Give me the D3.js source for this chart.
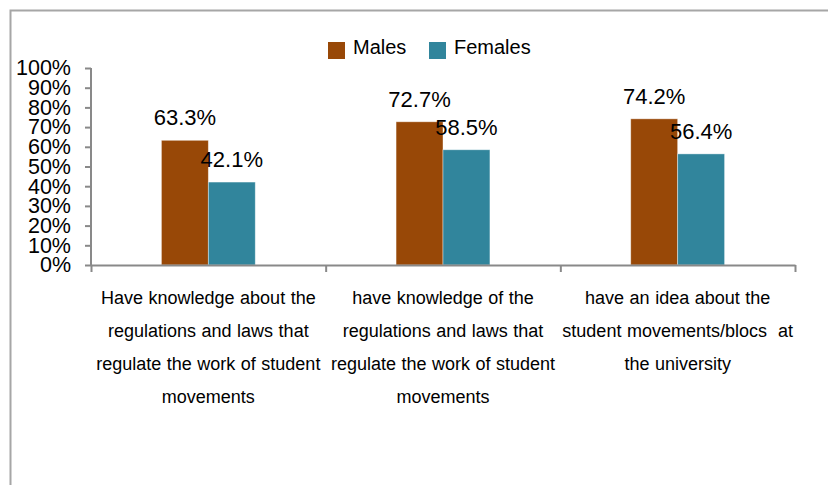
<!DOCTYPE html>
<html>
<head>
<meta charset="utf-8">
<script src="https://cdn.jsdelivr.net/npm/d3@7"></script>
<style>
  html, body { margin: 0; padding: 0; background: #fff; }
  svg { display: block; }
  text { font-family: Arial, "Liberation Sans", sans-serif; fill: #000; }
</style>
</head>
<body>
<svg id="chart" width="828" height="485"></svg>
<script>
// Survey categories (label lines) and the share of respondents per gender
const categories = ["cat1", "cat2", "cat3"];
const categoryLines = [
  ["Have knowledge about the", "regulations and laws that", "regulate the work of student", "movements"],
  ["have knowledge of the", "regulations and laws that", "regulate the work of student", "movements"],
  ["have an idea about the", "student movements/blocs  at", "the university"]
];
const series = ["Males", "Females"];
const males = [0.633, 0.727, 0.742];
const females = [0.421, 0.585, 0.564];
const yTicks = [0, 0.1, 0.2, 0.3, 0.4, 0.5, 0.6, 0.7, 0.8, 0.9, 1.0];
const colors = ["#984807", "#31859C"];

const values = [males, females];
const svg = d3.select("#chart");

// outer frame (left and top edges)
svg.append("path")
  .attr("d", "M10.5,485 V10.5 H828")
  .attr("fill", "none")
  .attr("stroke", "#a6a6a6")
  .attr("stroke-width", 2);

const plot = { left: 91, right: 795, top: 68, bottom: 265 };

const y = d3.scaleLinear().domain([0, 1]).range([plot.bottom, plot.top]);
const x = d3.scaleBand().domain(categories).range([plot.left, plot.right]).padding(0);
const bw = x.bandwidth();
const x1 = d3.scaleBand().domain(series).range([0.3 * bw, 0.7 * bw]).padding(0);

// bars
series.forEach((s, si) => {
  svg.append("g").selectAll("rect")
    .data(categories.map((c, i) => ({ c, v: values[si][i] })))
    .join("rect")
    .attr("x", d => x(d.c) + x1(s))
    .attr("y", d => y(d.v))
    .attr("width", x1.bandwidth())
    .attr("height", d => y(0) - y(d.v))
    .attr("fill", colors[si])
    .attr("stroke", "#ffffff")
    .attr("stroke-opacity", 0.5)
    .attr("stroke-width", 0.8);
});

// y axis
const yAxis = svg.append("g")
  .attr("transform", `translate(${plot.left},0)`)
  .call(d3.axisLeft(y).tickValues(yTicks).tickFormat(d3.format(".0%")).tickSize(6).tickPadding(14));
yAxis.selectAll("path, line").attr("stroke", "#898989").attr("stroke-width", 2);
yAxis.select(".domain").attr("d", `M0,${plot.bottom}V${plot.top}`);
yAxis.selectAll("text")
  .style("font-size", "21.5px")
  .style("font-family", "Arial, 'Liberation Sans', sans-serif")
  .attr("fill", "#000");

// x axis with boundary ticks between categories
const xb = d3.scaleLinear().domain([0, categories.length]).range([plot.left, plot.right]);
const xAxis = svg.append("g")
  .attr("transform", `translate(0,${plot.bottom})`)
  .call(d3.axisBottom(xb).ticks(categories.length).tickFormat("").tickSize(7).tickSizeOuter(0));
xAxis.selectAll("path, line").attr("stroke", "#898989").attr("stroke-width", 2);

// category labels
const catG = svg.append("g").selectAll("text")
  .data(categories.map((c, i) => ({ c, lines: categoryLines[i] })))
  .join("text")
  .attr("text-anchor", "middle")
  .attr("xml:space", "preserve")
  .style("white-space", "pre")
  .style("font-size", "18px")
  .style("word-spacing", "0.5px");
catG.selectAll("tspan")
  .data(d => d.lines.map(l => ({ l, cx: x(d.c) + bw / 2 })))
  .join("tspan")
  .attr("x", d => d.cx)
  .attr("y", (d, i) => 304 + i * 33)
  .text(d => d.l);

// value labels
series.forEach((s, si) => {
  svg.append("g").selectAll("text")
    .data(categories.map((c, i) => ({ c, v: values[si][i] })))
    .join("text")
    .attr("x", d => x(d.c) + x1(s) + x1.bandwidth() / 2)
    .attr("y", d => y(d.v) - 15)
    .attr("text-anchor", "middle")
    .style("font-size", "22px")
    .text(d => d3.format(".1%")(d.v));
});

// legend
const legend = svg.append("g");
const legendX = [328, 429];
series.forEach((s, si) => {
  legend.append("rect")
    .attr("x", legendX[si]).attr("y", 42)
    .attr("width", 17).attr("height", 17)
    .attr("fill", colors[si]);
  legend.append("text")
    .attr("x", legendX[si] + 25).attr("y", 53.5)
    .style("font-size", "20px")
    .text(s);
});
</script>
</body>
</html>
